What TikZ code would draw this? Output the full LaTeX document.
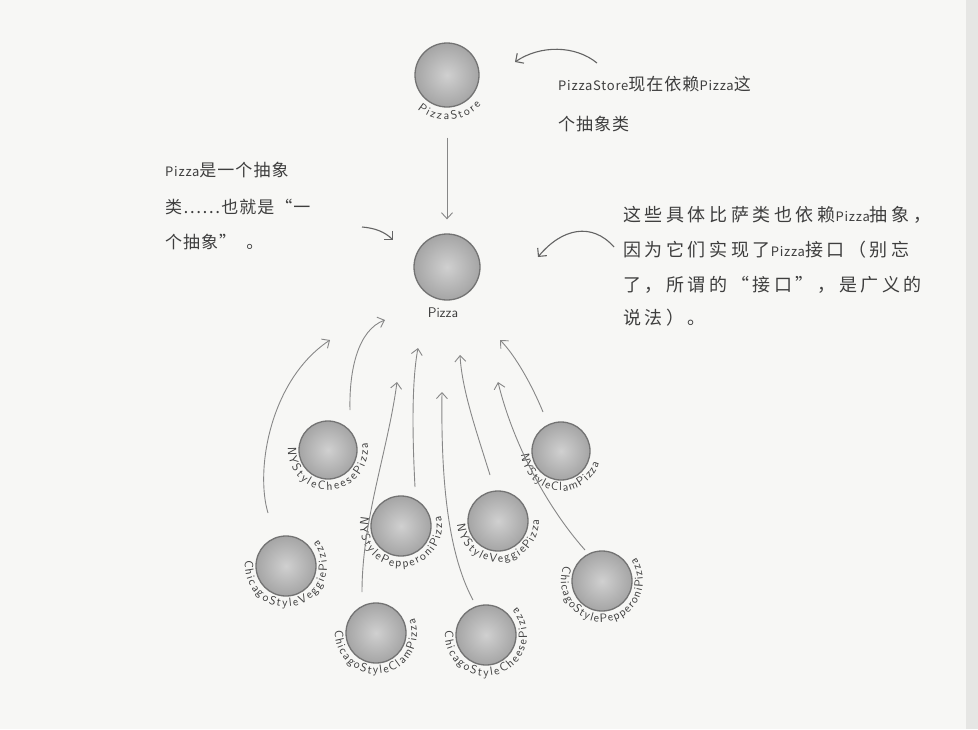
\documentclass[tikz,border=0pt]{standalone}
\usepackage{fontspec}
\newfontfamily\cjk[LetterSpace=6]{Noto Sans CJK SC}
\newfontfamily\cjkw[LetterSpace=20]{Noto Sans CJK SC}
\usetikzlibrary{arrows.meta,decorations.text,calc}
\definecolor{bg}{RGB}{247,247,245}
\definecolor{edge}{RGB}{230,230,228}
\definecolor{ink}{RGB}{62,62,62}
\definecolor{lineg}{RGB}{135,135,135}
\definecolor{noteg}{RGB}{100,100,100}
\definecolor{ballin}{RGB}{208,208,208}
\definecolor{ballout}{RGB}{165,165,165}
\definecolor{rim}{RGB}{115,115,115}
\newcommand\lt[1]{{\fontsize{13pt}{13pt}\selectfont #1}}
\newcommand\ltw[1]{{\cjk\fontsize{13pt}{13pt}\selectfont #1}}
\newcommand\curlab[5]{\path[decorate, decoration={text along path, text align={fit to path}, text color=ink, text={|\sffamily\fontsize{12pt}{12pt}\selectfont|#5}}] ($(#1.center)+(#2:#4)$) arc[start angle=#2, end angle=#3, radius=#4];}
\begin{document}
\begin{tikzpicture}[x=1pt,y=1pt,
  ball/.style={circle, minimum size=#1, inner sep=0pt, inner color=ballin, outer color=ballout, draw=rim, line width=1.3pt},
  ball/.default=58pt,
  note/.style={anchor=west, inner sep=0pt, text=ink, font=\cjk\fontsize{17pt}{17pt}\selectfont},
  notew/.style={anchor=west, inner sep=0pt, text=ink, font=\cjkw\fontsize{18pt}{18pt}\selectfont},
  dep/.style={draw=lineg, line width=0.9pt, -{Straight Barb[length=6pt,width=11pt]}},
  pointer/.style={draw=noteg, line width=1.1pt, -{Straight Barb[length=6pt,width=12pt]}}]
\useasboundingbox (0,0) rectangle (978,-729);
\fill[bg] (0,0) rectangle (978,-729);
\fill[edge] (966,0) rectangle (978,-729);

% classes
\node[ball=64pt] (ps) at (447,-75) {};
\node[ball=66pt] (pz) at (447,-267) {};
\node[ball] (nych) at (328,-450) {};
\node[ball] (nycl) at (561,-451) {};
\node[ball=60pt] (nype) at (401,-526) {};
\node[ball=60pt] (nyve) at (498,-521) {};
\node[ball=60pt] (chve) at (286,-566) {};
\node[ball=60pt] (chcl) at (376,-633) {};
\node[ball=60pt] (chch) at (486,-635) {};
\node[ball=60pt] (chpe) at (602,-581) {};

% labels
\curlab{ps}{229}{319}{45}{PizzaStore}
\node[text=ink, font=\sffamily\fontsize{14pt}{14pt}\selectfont] (pzl) at (443,-313) {Pizza};
\curlab{nych}{176}{370}{40}{NYStyleCheesePizza}
\curlab{nycl}{185}{342}{40}{NYStyleClamPizza}
\curlab{nype}{167}{374}{41}{NYStylePepperoniPizza}
\curlab{nyve}{185}{362}{41}{NYStyleVeggiePizza}
\curlab{chve}{172}{399}{41}{ChicagoStyleVeggiePizza}
\curlab{chcl}{176}{381}{41}{ChicagoStyleClamPizza}
\curlab{chch}{174}{402}{41}{ChicagoStyleCheesePizza}
\curlab{chpe}{158}{394}{41}{ChicagoStylePepperoniPizza}

% dependency arrows
\draw[dep] ($(ps.south)+(0,-30)$) coordinate (s0) -- ($(pz.north)+(0,14)$) coordinate (t0);
\coordinate (s1) at (268,-513); \coordinate (t1) at (330,-340);
\coordinate (s2) at (350,-410); \coordinate (t2) at (385,-320);
\coordinate (s3) at (362,-592); \coordinate (t3) at (397,-382);
\coordinate (s4) at (415,-487); \coordinate (t4) at (418,-348);
\coordinate (s5) at (473,-600); \coordinate (t5) at (442,-392);
\coordinate (s6) at (490,-475); \coordinate (t6) at (460,-355);
\coordinate (s7) at (585,-550); \coordinate (t7) at (498,-382);
\coordinate (s8) at (543,-412); \coordinate (t8) at (500,-340);
\draw[dep] (s1) .. controls (255,-470) and (270,-380) .. (t1);
\draw[dep] (s2) .. controls (349,-370) and (358,-330) .. (t2);
\draw[dep] (s3) .. controls (362,-520) and (388,-450) .. (t3);
\draw[dep] (s4) .. controls (412,-430) and (412,-380) .. (t4);
\draw[dep] (s5) .. controls (446,-550) and (441,-470) .. (t5);
\draw[dep] (s6) .. controls (476,-430) and (462,-390) .. (t6);
\draw[dep] (s7) .. controls (545,-505) and (512,-440) .. (t7);
\draw[dep] (s8) .. controls (532,-385) and (515,-355) .. (t8);

% notes
\node[note] (n1a) at (558,-84) {\lt{PizzaStore}现在依赖\lt{Pizza}这};
\node[note] (n1b) at (558,-124) {个抽象类};
\node[note] (n2a) at (165,-170) {\lt{Pizza}是一个抽象};
\node[note] (n2b) at (165,-207) {类……也就是“一};
\node[note] (n2c) at (165,-242) {个抽象”\hspace{10pt}。};
\node[notew] (n3a) at (623,-215) {这些具体比萨类也依赖\ltw{Pizza}抽象，};
\node[notew] (n3b) at (623,-250) {因为它们实现了\ltw{Pizza}接口（别忘};
\node[notew] (n3c) at (623,-285) {了，所谓的“接口”，是广义的};
\node[notew] (n3d) at (623,-318) {说法）。};

\coordinate (p1s) at (597,-63); \coordinate (p1t) at (515,-62);
\coordinate (p2s) at (614,-247); \coordinate (p2t) at (538,-257);
\coordinate (p3s) at (362,-227); \coordinate (p3t) at (393,-240);
\draw[pointer] (p1s) .. controls (575,-45) and (540,-45) .. (p1t);
\draw[pointer] (p2s) .. controls (592,-222) and (562,-228) .. (p2t);
\draw[pointer] (p3s) .. controls (375,-228) and (385,-232) .. (p3t);
\end{tikzpicture}
\end{document}
